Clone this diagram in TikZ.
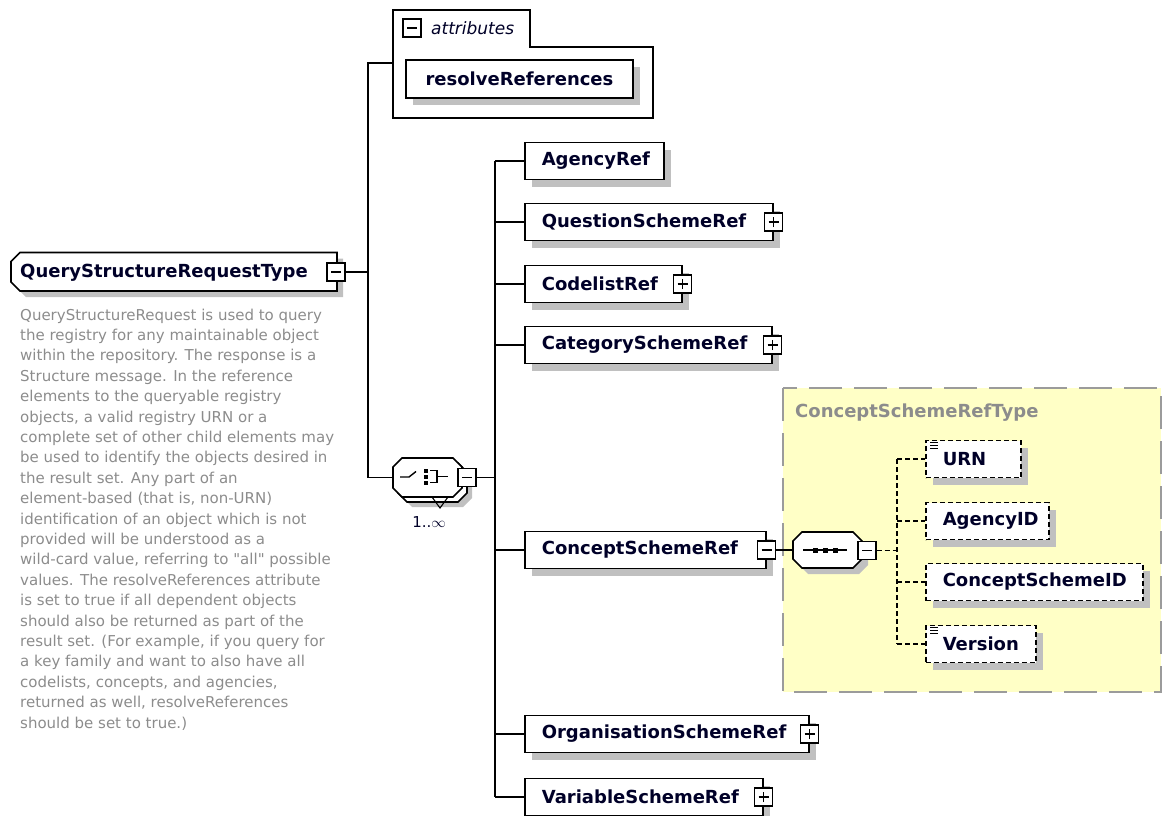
\documentclass[tikz,border=0pt]{standalone}
\usepackage{fontspec}
\setmainfont{DejaVu Sans}
\usetikzlibrary{calc,shadows}

\definecolor{shadowgray}{RGB}{192,192,192}
\definecolor{descgray}{RGB}{140,140,140}
\definecolor{labelgray}{RGB}{140,140,140}
\definecolor{typefill}{RGB}{255,255,198}
\definecolor{typeborder}{RGB}{155,155,155}
\definecolor{ink}{RGB}{0,0,40}

\newcommand\elemfont{\fontsize{18}{20}\selectfont\bfseries}
\newcommand\descfont{\fontsize{15}{20.4}\selectfont}
\newcommand\attrfont{\fontsize{17}{20}\selectfont\itshape}
\newcommand\fixw[2]{\makebox[#1][l]{#2}}
% straight double quote, set as a glyph so that no text mapping curls it
\newcommand\straightquote{\XeTeXglyph\XeTeXcharglyph"22\relax}

\tikzset{
  boxline/.style={line width=1.6pt, draw=black},
  wire/.style={line width=1.6pt, draw=black},
  dwire/.style={line width=1.5pt, draw=black, dash pattern=on 5pt off 3pt},
  shadowed/.style={general shadow={fill=shadowgray, shadow xshift=7pt, shadow yshift=-7pt}},
  elem/.style={boxline, fill=white, shadowed, anchor=west, minimum height=37pt,
    inner xsep=17pt, inner ysep=0pt, font=\elemfont, text=ink},
  item/.style={elem, line width=1.5pt, dash pattern=on 5pt off 3pt},
  btn/.style={draw=black, line width=1.4pt, fill=white, minimum size=18pt, inner sep=0pt},
  minusbtn/.style={btn, path picture={
      \draw[line width=1.4pt] ([xshift=-5pt]path picture bounding box.center)
        -- ([xshift=5pt]path picture bounding box.center);}},
  plusbtn/.style={btn, path picture={
      \draw[line width=1.4pt] ([xshift=-5pt]path picture bounding box.center)
        -- ([xshift=5pt]path picture bounding box.center);
      \draw[line width=1.4pt] ([yshift=-5pt]path picture bounding box.center)
        -- ([yshift=5pt]path picture bounding box.center);}},
  typebox/.style={fill=typefill, draw=typeborder, line width=2pt, dash pattern=on 33pt off 12pt},
  listicon/.style={line width=0.9pt, draw=black}
}

\begin{document}
\begin{tikzpicture}[x=1pt,y=-1pt]
\useasboundingbox (0,0) rectangle (1163,816);

% ---------- ConceptSchemeRefType group ----------
\draw[typebox] (783,388) rectangle (1161,692);
\node[anchor=west, inner sep=0, font=\elemfont, text=labelgray] (cstypelabel) at (795,413) {ConceptSchemeRefType};

% ---------- root complex type ----------
\fill[shadowgray] (26,258.5) -- (343,258.5) -- (343,297) -- (26,297) -- (17,288) -- (17,267.5) -- cycle;
\draw[boxline, fill=white] (20,252.5) -- (337,252.5) -- (337,291) -- (20,291) -- (11,282) -- (11,261.5) -- cycle;
\node[anchor=base west, inner sep=0, font=\elemfont, text=ink] (root) at (20,277) {QueryStructureRequestType};

\node[anchor=north west, inner sep=0, font=\descfont, text=descgray, align=left] (desc) at (20,308.5) {%
QueryStructureRequest is used to query\\
the registry for any maintainable object\\
within the repository. The response is a\\
Structure message. In the reference\\
elements to the queryable registry\\
objects, a valid registry URN or a\\
complete set of other child elements may\\
be used to identify the objects desired in\\
the result set. Any part of an\\
element-based (that is, non-URN)\\
identification of an object which is not\\
provided will be understood as a\\
wild-card value, referring to \straightquote all\straightquote{} possible\\
values. The resolveReferences attribute\\
is set to true if all dependent objects\\
should also be returned as part of the\\
result set. (For example, if you query for\\
a key family and want to also have all\\
codelists, concepts, and agencies,\\
returned as well, resolveReferences\\
should be set to true.)};

% ---------- attributes group ----------
\draw[boxline, fill=white] (393,118) -- (393,10) -- (530,10) -- (530,47) -- (653,47) -- (653,118) -- cycle;
\node[anchor=west, inner sep=0, font=\attrfont, text=ink] (attrlabel) at (431,28) {attributes};
\node[elem, anchor=center, minimum width=227pt, minimum height=38pt] (resolve) at (519.5,79) {resolveReferences};
\coordinate (attrin) at (393,63);

% ---------- choice compositor (1..unbounded) ----------
\node[inner sep=0, minimum width=69pt, minimum height=39pt] (choice) at (427.5,477.5) {};
\fill[shadowgray] (412,468) -- (463,468) -- (472,477) -- (472,498) -- (463,507) -- (412,507) -- (403,498) -- (403,477) -- cycle;
\draw[boxline, fill=white] (407,463) -- (458,463) -- (467,472) -- (467,493) -- (458,502) -- (407,502) -- (398,493) -- (398,472) -- cycle;
\draw[boxline, fill=white] (402,458) -- (453,458) -- (462,467) -- (462,488) -- (453,497) -- (402,497) -- (393,488) -- (393,467) -- cycle;
\draw[line width=1.1pt] (432,497) -- (440,508) -- (448,497);
% switch symbol
\draw[line width=1.4pt] (400,477) -- (409,477) -- (416,471.5);
\foreach \yy in {470.5,476.5,482.5} \fill (424,\yy-2) rectangle (428,\yy+2);
\draw[line width=1.4pt] (430,470.5) -- (437,470.5) -- (437,482.5) -- (430,482.5);
\draw[line width=1.4pt] (437,476.5) -- (448,476.5);
\node[font=\fontsize{15}{18}\selectfont, text=ink, inner sep=0] (mult) at (429,522) {1..\(\infty\)};

% ---------- child elements ----------
\coordinate (trunk) at (368,0);
\coordinate (bus) at (495,0);

\node[elem] (agency)   at (524,161) {\fixw{105pt}{AgencyRef}};
\node[elem] (question) at (524,222) {\fixw{214pt}{QuestionSchemeRef}};
\node[elem] (codelist) at (524,284) {\fixw{123pt}{CodelistRef}};
\node[elem] (category) at (524,345) {\fixw{213pt}{CategorySchemeRef}};
\node[elem] (concept)  at (524,550) {\fixw{207pt}{ConceptSchemeRef}};
\node[elem] (organisation) at (524,734) {\fixw{250pt}{OrganisationSchemeRef}};
\node[elem] (variable) at (524,797) {\fixw{204pt}{VariableSchemeRef}};

% ---------- sequence compositor ----------
\node[inner sep=0, minimum width=69pt, minimum height=36pt] (seq) at (827.5,550) {};
\fill[shadowgray] (808,538) -- (859,538) -- (868,547) -- (868,565) -- (859,574) -- (808,574) -- (799,565) -- (799,547) -- cycle;
\draw[boxline, fill=white] (802,532) -- (853,532) -- (862,541) -- (862,559) -- (853,568) -- (802,568) -- (793,559) -- (793,541) -- cycle;
\draw[line width=1.4pt] (803,550) -- (847,550);
\foreach \xx in {815,825,835} \fill (\xx-2.5,547.5) rectangle (\xx+2.5,552.5);

% ---------- sequence items ----------
\coordinate (dbus) at (897,0);
\node[item] (urn)      at (925,459) {\fixw{61pt}{URN}};
\node[item] (agencyid) at (925,521) {\fixw{89pt}{AgencyID}};
\node[item] (csid)     at (925,582) {\fixw{183pt}{ConceptSchemeID}};
\node[item] (version)  at (925,644) {\fixw{76pt}{Version}};
\foreach \n in {urn,version}
  \foreach \k in {2.5,5.5,8.5}
    \draw[listicon] ($(\n.north west)+(5,\k)$) -- ++(8,0);

% ---------- buttons ----------
\node[minusbtn] (rootbtn)   at (336,272) {};
\node[minusbtn] (attrbtn)   at (412,28) {};
\node[minusbtn] (choicebtn) at (467,477.5) {};
\node[plusbtn]  (questionbtn) at (question.east) {};
\node[plusbtn]  (codelistbtn) at (codelist.east) {};
\node[plusbtn]  (categorybtn) at (category.east) {};
\node[minusbtn] (conceptbtn)  at (concept.east) {};
\node[plusbtn]  (organisationbtn) at (organisation.east) {};
\node[plusbtn]  (variablebtn) at (variable.east) {};
\node[minusbtn] (seqbtn) at (867,550.5) {};

% ---------- connectors ----------
\draw[wire] (rootbtn.east) -- (rootbtn.east -| trunk);
\draw[wire] (attrin) -| (trunk |- choice.west) -- (choice.west);
\draw[wire] (choicebtn.east) -- (choicebtn.east -| bus);
\draw[wire] (agency.west -| bus) -- (variable.west -| bus);
\foreach \e in {agency,question,codelist,category,concept,organisation,variable}
  \draw[wire] (\e.west -| bus) -- (\e.west);
\draw[wire] (conceptbtn.east) -- (seq.west);
\draw[dwire] (seqbtn.east) -- (seqbtn.east -| dbus);
\draw[dwire] (urn.west -| dbus) -- (version.west -| dbus);
\foreach \e in {urn,agencyid,csid,version}
  \draw[dwire] (\e.west -| dbus) -- (\e.west);
\end{tikzpicture}
\end{document}
